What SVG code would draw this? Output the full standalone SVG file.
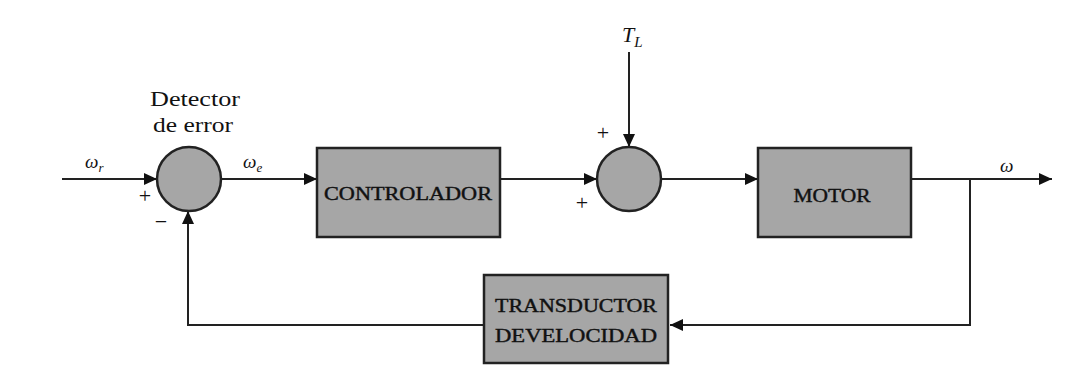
<svg xmlns="http://www.w3.org/2000/svg" width="1083" height="387" viewBox="0 0 1083 387">
<style>
.blk{fill:#a6a6a6;stroke:#222;stroke-width:2.5}
.sum{fill:#a6a6a6;stroke:#222;stroke-width:2.5}
.ln{fill:none;stroke:#222;stroke-width:2}
.t{font-family:"Liberation Serif",serif;fill:#111}
.bt{font-family:"Liberation Serif",serif;fill:#111;font-size:18px;stroke:#111;stroke-width:0.4}
.it{font-family:"Liberation Serif",serif;font-style:italic;fill:#111}
</style>
<defs>
<marker id="ah" markerUnits="userSpaceOnUse" markerWidth="14" markerHeight="12" refX="13" refY="6" orient="auto">
<path d="M0,0 L13,6 L0,12 z" fill="#111"/>
</marker>
</defs>
<rect width="1083" height="387" fill="#fff"/>
<g id="connectors">
<line class="ln" x1="62" y1="179" x2="157" y2="179" marker-end="url(#ah)"/>
<line class="ln" x1="221" y1="179" x2="317" y2="179" marker-end="url(#ah)"/>
<line class="ln" x1="500" y1="179" x2="597" y2="179" marker-end="url(#ah)"/>
<line class="ln" x1="629" y1="52" x2="629" y2="147" marker-end="url(#ah)"/>
<line class="ln" x1="661" y1="179" x2="758" y2="179" marker-end="url(#ah)"/>
<line class="ln" x1="911" y1="179" x2="1052" y2="179" marker-end="url(#ah)"/>
<polyline class="ln" points="970,179 970,325 670,325" marker-end="url(#ah)"/>
<polyline class="ln" points="484,325 188,325 188,211" marker-end="url(#ah)"/>
</g>
<g id="detector">
<circle class="sum" cx="189" cy="179" r="32"/>
<text class="t" x="195" y="106" font-size="22" text-anchor="middle" textLength="90" lengthAdjust="spacingAndGlyphs">Detector</text>
<text class="t" x="193" y="132" font-size="22" text-anchor="middle" textLength="80" lengthAdjust="spacingAndGlyphs">de error</text>
<text class="t" x="145" y="203" font-size="22" text-anchor="middle">+</text>
<text class="t" x="161" y="229" font-size="22" text-anchor="middle">−</text>
</g>
<g id="sum2">
<circle class="sum" cx="629" cy="179" r="32"/>
<text class="t" x="603" y="140" font-size="22" text-anchor="middle">+</text>
<text class="t" x="582" y="210" font-size="22" text-anchor="middle">+</text>
</g>
<g id="controlador">
<rect class="blk" x="317" y="148" width="183" height="89"/>
<text class="bt" x="408" y="200" text-anchor="middle" textLength="168" lengthAdjust="spacingAndGlyphs">CONTROLADOR</text>
</g>
<g id="motor">
<rect class="blk" x="758" y="148" width="153" height="89"/>
<text class="bt" x="832" y="202" text-anchor="middle" textLength="77" lengthAdjust="spacingAndGlyphs">MOTOR</text>
</g>
<g id="transductor">
<rect class="blk" x="484" y="275" width="184" height="88"/>
<text class="bt" x="576" y="312" text-anchor="middle" textLength="162" lengthAdjust="spacingAndGlyphs">TRANSDUCTOR</text>
<text class="bt" x="576" y="342" text-anchor="middle" textLength="162" lengthAdjust="spacingAndGlyphs">DEVELOCIDAD</text>
</g>
<g id="labels">
<text class="it" x="85" y="168" font-size="19">ω<tspan font-size="13" dy="4">r</tspan></text>
<text class="it" x="243" y="168" font-size="19">ω<tspan font-size="13" dy="4">e</tspan></text>
<text class="it" x="622" y="42" font-size="22">T<tspan font-size="15" dy="5">L</tspan></text>
<text class="it" x="1000" y="172" font-size="19">ω</text>
</g>
</svg>
